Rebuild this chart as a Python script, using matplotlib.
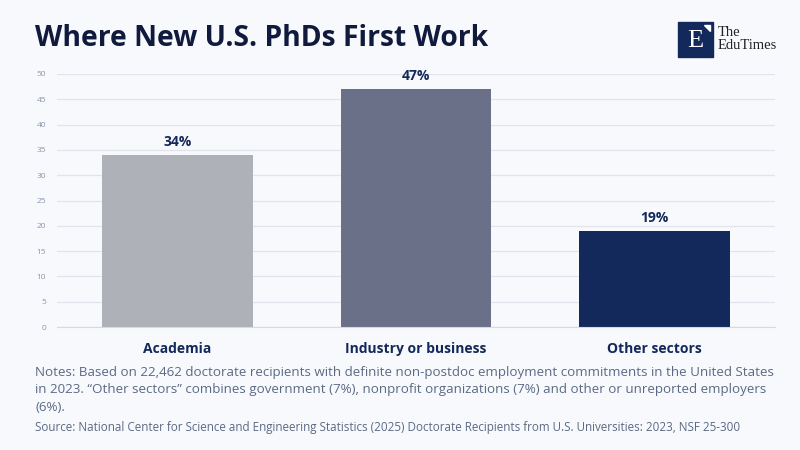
import matplotlib.pyplot as plt
from matplotlib.patches import Rectangle, Polygon

categories = ["Academia", "Industry or business", "Other sectors"]
shares = [34, 47, 19]
bar_colors = ["#afb1b9", "#6b7089", "#13295b"]
y_ticks = [0, 5, 10, 15, 20, 25, 30, 35, 40, 45, 50]

title = "Where New U.S. PhDs First Work"
notes = ("Notes: Based on 22,462 doctorate recipients with definite non-postdoc employment commitments in the United States\n"
         "in 2023. \u201cOther sectors\u201d combines government (7%), nonprofit organizations (7%) and other or unreported employers\n"
         "(6%).")
source = "Source: National Center for Science and Engineering Statistics (2025) Doctorate Recipients from U.S. Universities: 2023, NSF 25-300"

bg = "#f8f9fd"
navy = "#13295b"
text_gray = "#5b6a84"

plt.rcParams['font.family'] = ['Open Sans', 'DejaVu Sans']

fig = plt.figure(figsize=(8, 4.5), dpi=100, facecolor=bg)
W, H = 800, 450
# axes placed in pixel coords: x 57..775, y 74..327
ax = fig.add_axes([57 / W, 1 - 327 / H, (775 - 57) / W, (327 - 74) / H])
ax.set_facecolor(bg)

x = range(len(categories))
ax.bar(x, shares, width=0.63, color=bar_colors, zorder=2)
for xi, v in zip(x, shares):
    ax.annotate(f"{v}%", (xi, v), xytext=(0, 4.5), textcoords="offset points",
                ha="center", va="bottom", fontsize=10, fontweight="bold", color=navy)

ax.set_xlim(-0.505, 2.505)
ax.set_ylim(0, 50)
ax.set_yticks(y_ticks)
ax.yaxis.grid(True, color="#e1e4ec", linewidth=0.9, zorder=0)
ax.tick_params(axis="y", length=0, labelsize=6, labelcolor="#8a94ac", pad=8)
ax.tick_params(axis="x", length=0, labelsize=10, labelcolor=navy, pad=11)
ax.set_xticks(list(x))
ax.set_xticklabels(categories, fontweight="bold")
for s in ["top", "right", "left"]:
    ax.spines[s].set_visible(False)
ax.spines["bottom"].set_color("#d6d9e2")

fig.text(35 / W, 1 - 38 / H, title, fontsize=20.3, fontweight="bold", color="#0f1a3d",
         ha="left", va="center")
fig.text(35 / W, 1 - 366 / H, notes, fontsize=9.6, color=text_gray, ha="left", va="top",
         linespacing=1.45)
fig.text(35 / W, 1 - 427 / H, source, fontsize=8.4, color=text_gray, ha="left", va="center")

# logo
fig.patches.append(Rectangle((678 / W, 1 - 57 / H), 35 / W, 35 / H, transform=fig.transFigure,
                             color=navy, zorder=5))
fig.patches.append(Polygon([(704 / W, 1 - 25 / H), (710 / W, 1 - 25 / H), (710 / W, 1 - 31 / H)],
                           closed=True, transform=fig.transFigure, color="white", zorder=6))
fig.text(695 / W, 1 - 41 / H, "E", family=["Liberation Serif", "DejaVu Serif"], fontsize=19,
         color="white", ha="center", va="center", zorder=7)
fig.text(718 / W, 1 - 39 / H, "The\nEduTimes", family=["Liberation Serif", "DejaVu Serif"],
         fontsize=10.5, color="#222222", ha="left", va="center", linespacing=1.0, zorder=7)

fig.savefig("out.png", dpi=100, facecolor=bg)
